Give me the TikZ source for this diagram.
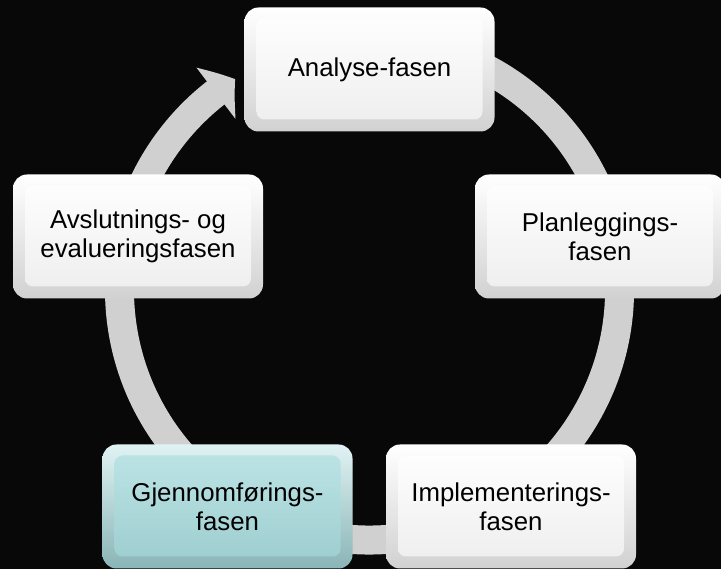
\documentclass[tikz,border=0pt]{standalone}
\usepackage{fontspec}
\setmainfont{Liberation Sans}
\usetikzlibrary{arrows.meta,bending}

\definecolor{facecyan}{RGB}{168,220,222}
\definecolor{ringgray}{RGB}{208,208,208}
\definecolor{backdrop}{RGB}{8,8,8}
\newcommand{\phasefont}{\fontsize{25.8}{29}\selectfont}

\tikzset{
  phase/.style={rounded corners=14pt, minimum width=250pt, minimum height=124pt,
    inner sep=0pt, align=center, font=\phasefont,
    top color=#1!35!white, bottom color=#1!82!black,
    path picture={\shade[rounded corners=8pt, top color=#1!75!white, bottom color=#1!93!black]
      ([shift={(12pt,-11pt)}]path picture bounding box.north west) rectangle
      ([shift={(-12pt,12pt)}]path picture bounding box.south east);}},
  phase/.default=white,
  ring/.style={draw=ringgray, line width=29pt, -{Triangle[length=24pt, width=63pt, bend]}}
}

\begin{document}
\begin{tikzpicture}[x=1pt, y=1pt]

\useasboundingbox (0,0) rectangle (721,569);
\fill[backdrop] (0,0) rectangle (721,569);

% the cycle arrow behind the boxes
\coordinate (hub) at (369.5,279);
\draw[ring] ([shift={(100:250)}]hub) arc[start angle=100, end angle=-237.5, radius=250];

\node[phase] (analyse) at (369.5,499.5) {Analyse-fasen};
\node[phase] (plan) at (600,332.5) {Planleggings-\\fasen};
\node[phase] (implement) at (511,62.5) {Implementerings-\\fasen};
\node[phase=facecyan] (gjennom) at (227.5,62.5) {Gjennomførings-\\fasen};
\node[phase] (avslut) at (138,332.5) {Avslutnings- og\\evalueringsfasen};

\end{tikzpicture}
\end{document}
